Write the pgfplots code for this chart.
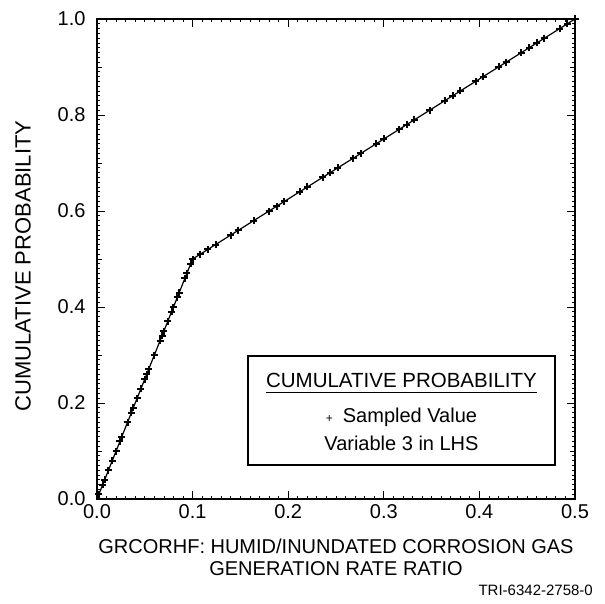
\documentclass[border=0pt]{standalone}
\usepackage{fontspec}
\setmainfont{Liberation Sans}
\usepackage{pgfplots}
\pgfplotsset{compat=1.18}

\begin{document}
\begin{tikzpicture}[x=1pt,y=1pt]
\path[use as bounding box] (-97,-104) rectangle (508,499);
\begin{axis}[
  at={(0,0)}, anchor=origin,
  scale only axis, width=478pt, height=480pt,
  xmin=0, xmax=0.5, ymin=0, ymax=1.0,
  xtick={0,0.1,...,0.5}, ytick={0,0.2,...,1.0},
  minor x tick num=9, minor y tick num=19,
  extra y ticks={0.1,0.3,0.5,0.7,0.9}, extra y tick labels={},
  extra y tick style={major tick length=5pt},
  tick align=inside, major tick length=8pt, minor tick length=3pt,
  tick style={black, line width=0.8pt},
  axis line style={line width=1.3pt},
  xticklabel style={font=\fontsize{20}{20}\selectfont, yshift=-2pt},
  yticklabel style={font=\fontsize{20}{20}\selectfont, xshift=-8pt},
  /pgf/number format/assume math mode=true,
  /pgf/number format/.cd, fixed, fixed zerofill, precision=1, /tikz/.cd,
  clip=false,
]
\addplot[black, line width=1.2pt] coordinates {(0,0) (0.1,0.5) (0.5,1.0)};
\addplot[only marks, mark=+, mark size=3.5pt, black, line width=2pt] coordinates {
(0.002,0.01) (0.006,0.03) (0.008,0.04) (0.012,0.06) (0.016,0.08)
(0.020,0.10) (0.024,0.12) (0.026,0.13) (0.032,0.16) (0.036,0.18)
(0.038,0.19) (0.042,0.21) (0.046,0.23) (0.050,0.25) (0.052,0.26)
(0.054,0.27) (0.060,0.30) (0.066,0.33) (0.068,0.34) (0.070,0.35)
(0.074,0.37) (0.078,0.39) (0.080,0.40) (0.084,0.42) (0.086,0.43)
(0.092,0.46) (0.094,0.47) (0.098,0.49) (0.100,0.50)
(0.108,0.51) (0.116,0.52) (0.124,0.53) (0.140,0.55) (0.148,0.56)
(0.164,0.58) (0.180,0.60) (0.188,0.61) (0.196,0.62) (0.212,0.64)
(0.220,0.65) (0.236,0.67) (0.244,0.68) (0.252,0.69) (0.268,0.71)
(0.276,0.72) (0.292,0.74) (0.300,0.75) (0.316,0.77) (0.324,0.78)
(0.332,0.79) (0.348,0.81) (0.364,0.83) (0.372,0.84) (0.380,0.85)
(0.396,0.87) (0.404,0.88) (0.420,0.90) (0.428,0.91) (0.444,0.93)
(0.452,0.94) (0.460,0.95) (0.468,0.96) (0.484,0.98) (0.492,0.99)
(0.500,1.00)};
% legend box
\draw[black, line width=1.2pt, fill=white] (rel axis cs:0.316,0.071) rectangle (rel axis cs:0.958,0.298);
\node[font=\fontsize{20.5}{20.5}\selectfont, anchor=base, inner sep=0pt] (lt) at (rel axis cs:0.637,0.233) {CUMULATIVE PROBABILITY};
\draw[black, line width=0.9pt] ([yshift=-5pt]lt.base west) -- ([yshift=-5pt]lt.base east);
\node[font=\fontsize{20}{20}\selectfont, anchor=base] at (rel axis cs:0.637,0.160) {{\fontsize{12}{12}\selectfont +}\enspace Sampled Value};
\node[font=\fontsize{20}{20}\selectfont, anchor=base] at (rel axis cs:0.637,0.102) {Variable 3 in LHS};
\end{axis}
\node[font=\fontsize{20}{20}\selectfont, anchor=base] at (239,-54) {GRCORHF: HUMID/INUNDATED CORROSION GAS};
\node[font=\fontsize{20}{20}\selectfont, anchor=base] at (239,-76) {GENERATION RATE RATIO};
\node[font=\fontsize{22}{22}\selectfont, anchor=north, rotate=90, inner sep=0pt] at (-82,233) {CUMULATIVE PROBABILITY};
\node[font=\fontsize{15}{15}\selectfont, anchor=base east, inner sep=0pt] at (496,-96) {TRI-6342-2758-0};
\end{tikzpicture}
\end{document}
